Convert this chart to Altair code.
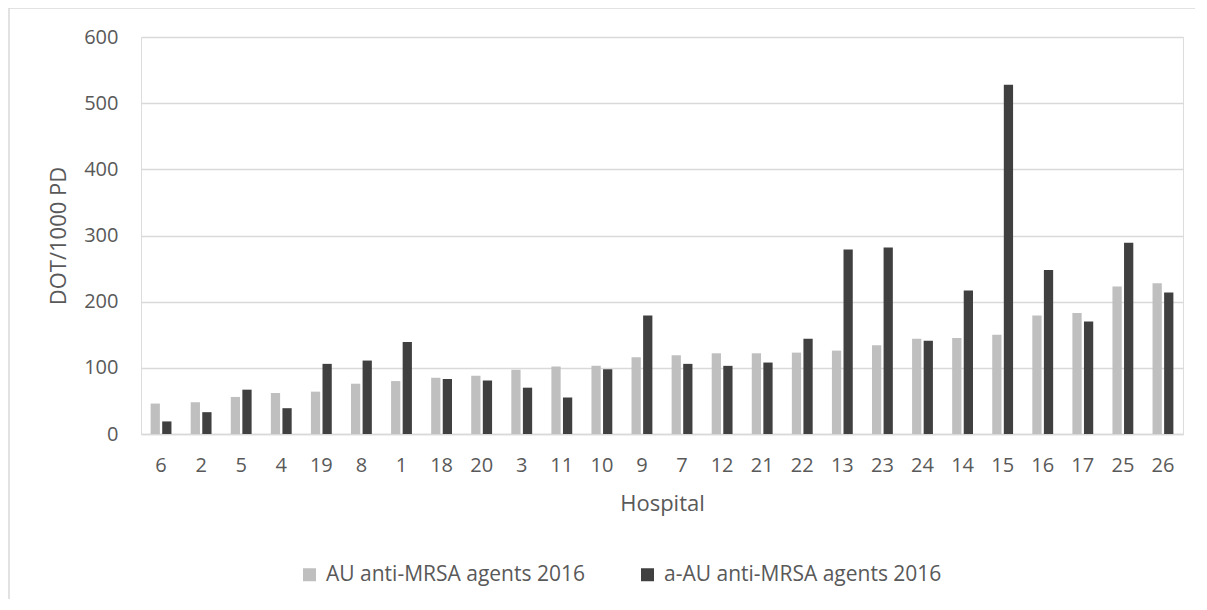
import altair as alt
import pandas as pd

hospitals = ["6", "2", "5", "4", "19", "8", "1", "18", "20", "3", "11", "10", "9",
             "7", "12", "21", "22", "13", "23", "24", "14", "15", "16", "17", "25", "26"]
au_2016 = [46, 48, 56, 62, 64, 76, 80, 85, 88, 97, 102, 103, 116,
           119, 122, 122, 123, 126, 134, 144, 145, 150, 179, 183, 223, 228]
a_au_2016 = [19, 33, 67, 39, 106, 111, 139, 83, 81, 70, 55, 98, 179,
             106, 103, 108, 144, 279, 282, 141, 217, 528, 248, 170, 289, 214]
series_names = ["AU anti-MRSA agents 2016", "a-AU anti-MRSA agents 2016"]
series_colors = ["#BFBFBF", "#404040"]

rows = []
for h, a, b in zip(hospitals, au_2016, a_au_2016):
    rows.append({"Hospital": h, "series": series_names[0], "value": a})
    rows.append({"Hospital": h, "series": series_names[1], "value": b})
df = pd.DataFrame(rows)

FONT = "Open Sans"
TXT = "#595959"
GRID = "#D9D9D9"

bars = alt.Chart(df).mark_bar().encode(
    x=alt.X("Hospital:N", sort=hospitals,
            scale=alt.Scale(paddingInner=0.48, paddingOuter=0.24),
            axis=alt.Axis(title="Hospital", labelAngle=0, ticks=False,
                          labelFontSize=20, labelColor=TXT, labelFont=FONT,
                          labelPadding=21,
                          titleFontSize=22, titleColor=TXT, titleFont=FONT,
                          titleFontWeight="normal", titleY=69, titleBaseline="middle",
                          domainColor=GRID, domainWidth=1.5)),
    xOffset=alt.XOffset("series:N", sort=series_names,
                        scale=alt.Scale(paddingInner=0.2, paddingOuter=0)),
    y=alt.Y("value:Q", scale=alt.Scale(domain=[0, 600], nice=False),
            axis=alt.Axis(title="DOT/1000 PD", values=[0, 100, 200, 300, 400, 500, 600],
                          ticks=False, domain=False, gridColor=GRID, gridWidth=1.5,
                          labelFontSize=20, labelColor=TXT, labelFont=FONT, labelPadding=23,
                          titleFontSize=22, titleColor=TXT, titleFont=FONT,
                          titleFontWeight="normal", titleX=-83, titleY=198.5,
                          titleAngle=270, titleAlign="center", titleBaseline="middle")),
    color=alt.Color("series:N", sort=series_names,
                    scale=alt.Scale(domain=series_names, range=series_colors),
                    legend=alt.Legend(orient="none", legendX=158, legendY=527,
                                      direction="horizontal", title=None,
                                      symbolType="square", symbolSize=169,
                                      symbolStrokeWidth=0, labelFontSize=21,
                                      labelFont=FONT, labelColor=TXT, labelLimit=0,
                                      labelOffset=6, columnPadding=52)),
)

frame = alt.Data(values=[{}])
left_edge = alt.Chart(frame).mark_rule(color=GRID, strokeWidth=1.5).encode(
    x=alt.value(-132), y=alt.value(-29), y2=alt.value(562)
)
top_edge = alt.Chart(frame).mark_rule(color=GRID, strokeWidth=1.5).encode(
    x=alt.value(-132), x2=alt.value(1054), y=alt.value(-29)
)

chart = alt.layer(left_edge, top_edge, bars).properties(
    width=1042, height=397,
    padding={"left": 133, "top": 29, "right": 12, "bottom": 165},
    autosize=alt.AutoSizeParams(type="none"),
).configure_view(stroke=None).configure(background="white")

chart.save("out.html", embed_options={"renderer": "svg", "actions": False})
